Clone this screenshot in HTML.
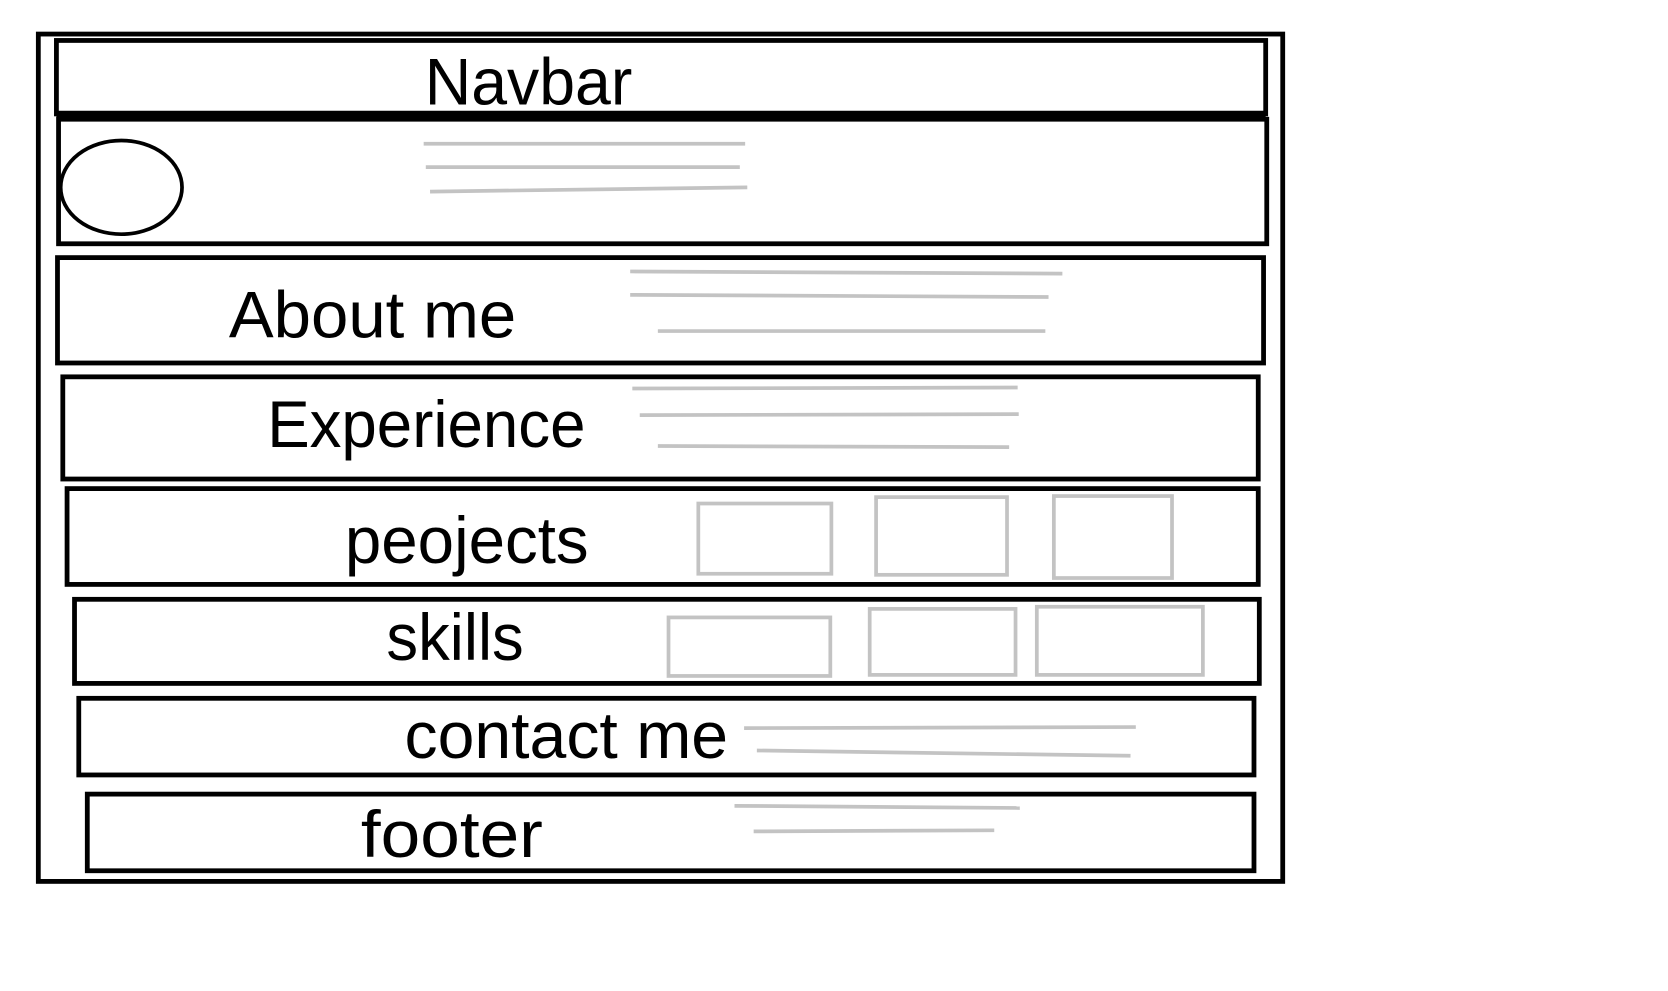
<!DOCTYPE html>
<html><head><meta charset="utf-8"><style>
html,body{margin:0;padding:0;background:#fff;}
svg{display:block;}
text{font-family:"Liberation Sans",sans-serif;font-size:62px;fill:#000;}
</style></head><body>
<svg width="1668" height="991" viewBox="0 0 1668 991" xmlns="http://www.w3.org/2000/svg">
<g transform="scale(1.0645)">
<g fill="none" stroke="#000" stroke-width="4.5">
<rect x="36" y="32" width="1169" height="796"/>
<rect x="53" y="38" width="1136" height="69"/>
<line x1="53" y1="107" x2="1189" y2="107" stroke-width="6"/>
<rect x="55" y="112" width="1135" height="117"/>
<ellipse cx="114" cy="176" rx="57" ry="44" stroke-width="3.5"/>
<rect x="54" y="242" width="1133" height="99"/>
<rect x="59" y="354" width="1123" height="96"/>
<rect x="63" y="459" width="1119" height="90"/>
<rect x="70" y="563" width="1113" height="79"/>
<rect x="74" y="656" width="1104" height="72"/>
<rect x="82" y="746" width="1096" height="72"/>
</g>
<g fill="none" stroke="#c3c3c3" stroke-width="3.5">
<line x1="398" y1="135" x2="700" y2="135"/>
<line x1="400" y1="157" x2="695" y2="157"/>
<line x1="404" y1="180" x2="702" y2="176"/>
<line x1="592" y1="255" x2="998" y2="257"/>
<line x1="592" y1="277" x2="985" y2="279"/>
<line x1="618" y1="311" x2="982" y2="311"/>
<line x1="594" y1="365" x2="956" y2="364"/>
<line x1="601" y1="390" x2="957" y2="389"/>
<line x1="618" y1="419" x2="948" y2="420"/>
<rect x="656" y="473" width="125" height="66"/>
<rect x="823" y="467" width="123" height="73"/>
<rect x="990" y="466" width="111" height="77"/>
<rect x="628" y="580" width="152" height="55"/>
<rect x="817" y="572" width="137" height="62"/>
<rect x="974" y="570" width="156" height="64"/>
<line x1="699" y1="684" x2="1067" y2="683"/>
<line x1="711" y1="705" x2="1062" y2="710"/>
<line x1="690" y1="757" x2="958" y2="759"/>
<line x1="708" y1="781" x2="934" y2="780"/>
</g>
<text x="399" y="98" textLength="195" lengthAdjust="spacingAndGlyphs">Navbar</text>
<text x="215" y="317" textLength="270" lengthAdjust="spacingAndGlyphs">About me</text>
<text x="251" y="420" textLength="299" lengthAdjust="spacingAndGlyphs">Experience</text>
<text x="324" y="529" textLength="229" lengthAdjust="spacingAndGlyphs">peojects</text>
<text x="363" y="620" textLength="129" lengthAdjust="spacingAndGlyphs">skills</text>
<text x="380" y="712" textLength="304" lengthAdjust="spacingAndGlyphs">contact me</text>
<text x="339" y="805" textLength="171" lengthAdjust="spacingAndGlyphs">footer</text>
</g>
</svg>
</body></html>
